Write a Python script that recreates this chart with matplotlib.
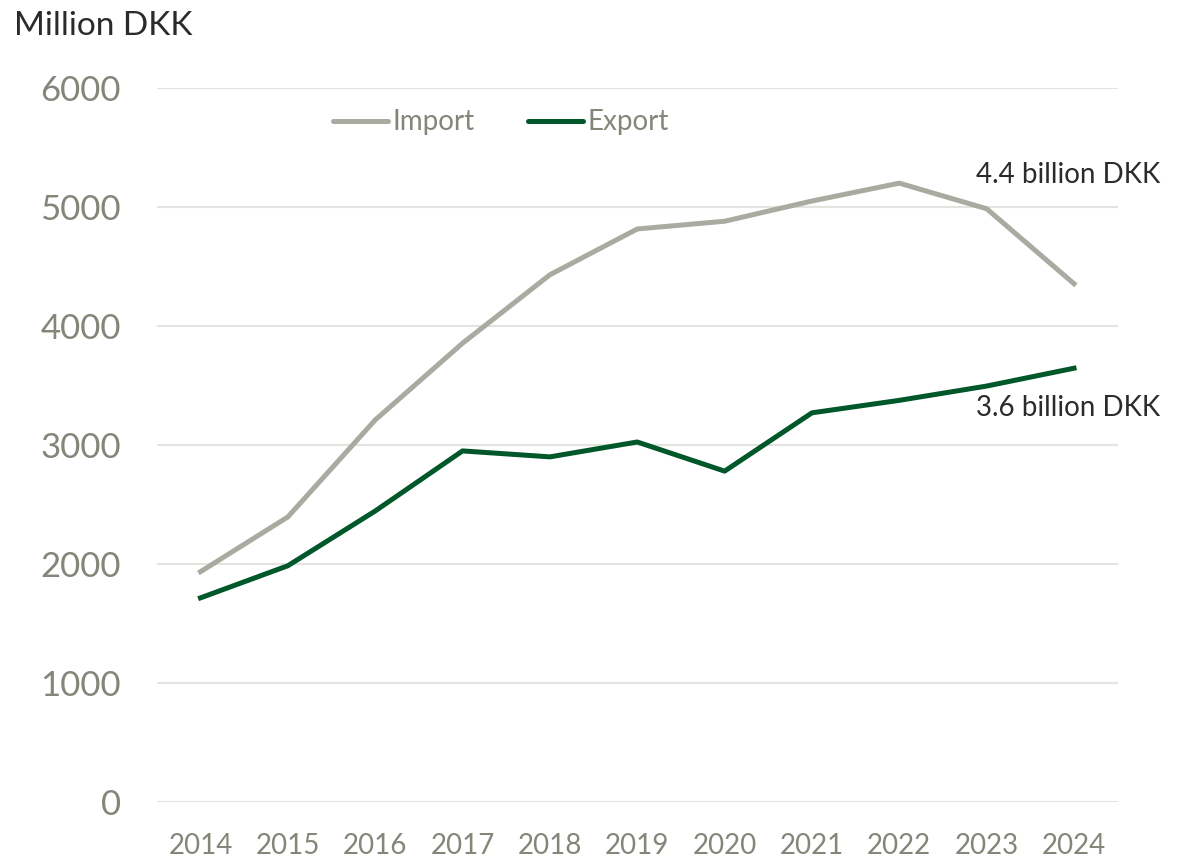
import matplotlib.pyplot as plt

years = [2014, 2015, 2016, 2017, 2018, 2019, 2020, 2021, 2022, 2023, 2024]
import_values = [1935, 2395, 3210, 3855, 4430, 4815, 4880, 5050, 5200, 4985, 4355]
export_values = [1715, 1985, 2445, 2950, 2900, 3025, 2780, 3270, 3375, 3495, 3645]

plt.rcParams['font.family'] = ['Lato', 'DejaVu Sans']

fig = plt.figure(figsize=(11.79, 8.59), dpi=100)
ax = fig.add_axes([0.133, 0.0664, 0.815, 0.8312])

ax.plot(years, import_values, color='#a9aaa0', linewidth=3.6, label='Import')
ax.plot(years, export_values, color='#00582a', linewidth=3.6, label='Export')

ax.set_xlim(2013.5, 2024.5)
ax.set_ylim(0, 6000)
ax.set_xticks(years)
ax.set_yticks(range(0, 6001, 1000))
ax.grid(axis='y', color='#e3e3e0', linewidth=1.5)
ax.set_axisbelow(True)
for s in ax.spines.values():
    s.set_visible(False)
ax.tick_params(axis='both', length=0, colors='#85857a')
ax.tick_params(axis='y', labelsize=25, pad=26)
ax.tick_params(axis='x', labelsize=20, pad=22)

fig.text(0.012, 0.970, 'Million DKK', fontsize=24, color='#2b2b2b', va='center', ha='left')

ax.text(2024.99, 5270, '4.4 billion DKK', fontsize=20, color='#2b2b2b', ha='right', va='center')
ax.text(2024.99, 3310, '3.6 billion DKK', fontsize=20, color='#2b2b2b', ha='right', va='center')

leg = ax.legend(loc='center', bbox_to_anchor=(0.358, 0.952), ncol=2, frameon=False,
                fontsize=20, handlelength=2.0, handletextpad=0.15, columnspacing=1.9)
for t in leg.get_texts():
    t.set_color('#85857a')
for line in leg.get_lines():
    line.set_solid_capstyle('round')

fig.savefig('out.png', dpi=100)
